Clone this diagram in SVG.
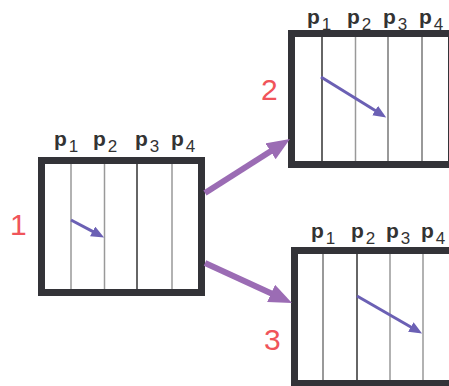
<svg xmlns="http://www.w3.org/2000/svg" width="449" height="386" viewBox="0 0 449 386">
<style>
.box{fill:#fff;stroke:#333338;stroke-width:7}
.dk{stroke:#333;stroke-width:1.5}
.md{stroke:#777;stroke-width:1.5}
.lt{stroke:#999;stroke-width:1.5}
.lbl{font-family:"Liberation Sans",Arial,sans-serif;font-size:21px;font-weight:bold;fill:#333}
.sub{font-weight:normal;font-size:17px}
.num{font-family:"Liberation Sans",Arial,sans-serif;font-size:30px;fill:#f0545a}
.big{stroke:#9b6cb4;stroke-width:6;fill:none}
.small{stroke:#6b60b4;stroke-width:3;fill:none}
</style>
<defs>
<marker id="bigHead" markerUnits="userSpaceOnUse" markerWidth="24" markerHeight="20" refX="1" refY="9.5" orient="auto">
<path d="M0,0 L23,9.5 L0,19 z" fill="#9b6cb4"/>
</marker>
<marker id="smallHead" markerUnits="userSpaceOnUse" markerWidth="14" markerHeight="12" refX="1" refY="5.5" orient="auto">
<path d="M0,0 L13,5.5 L0,11 z" fill="#6b60b4"/>
</marker>
</defs>
<g id="node1">
<rect class="box" x="41.5" y="160.5" width="160" height="132"/>
<line class="lt" x1="71" y1="164" x2="71" y2="289"/>
<line class="lt" x1="104.5" y1="164" x2="104.5" y2="289"/>
<line class="dk" x1="137" y1="164" x2="137" y2="289"/>
<line class="lt" x1="172" y1="164" x2="172" y2="289"/>
<line class="small" x1="71" y1="220" x2="93.5" y2="231.9" marker-end="url(#smallHead)"/>
<text class="lbl" x="54" y="146">p<tspan class="sub" dx="2" dy="6">1</tspan></text>
<text class="lbl" x="93" y="146">p<tspan class="sub" dx="2" dy="6">2</tspan></text>
<text class="lbl" x="135" y="146">p<tspan class="sub" dx="2" dy="6">3</tspan></text>
<text class="lbl" x="171" y="146">p<tspan class="sub" dx="2" dy="6">4</tspan></text>
<text class="num" x="10" y="235">1</text>
</g>
<g id="node2">
<rect class="box" x="291.5" y="33.5" width="160" height="131"/>
<line class="dk" x1="322" y1="37" x2="322" y2="161"/>
<line class="lt" x1="355.5" y1="37" x2="355.5" y2="161"/>
<line class="md" x1="388" y1="37" x2="388" y2="161"/>
<line class="md" x1="422" y1="37" x2="422" y2="161"/>
<line class="small" x1="321" y1="77" x2="376" y2="111.1" marker-end="url(#smallHead)"/>
<text class="lbl" x="307" y="24">p<tspan class="sub" dx="2" dy="6">1</tspan></text>
<text class="lbl" x="347" y="24">p<tspan class="sub" dx="2" dy="6">2</tspan></text>
<text class="lbl" x="383" y="24">p<tspan class="sub" dx="2" dy="6">3</tspan></text>
<text class="lbl" x="419" y="24">p<tspan class="sub" dx="2" dy="6">4</tspan></text>
<text class="num" x="261" y="100">2</text>
</g>
<g id="node3">
<rect class="box" x="294.5" y="250.5" width="160" height="133"/>
<line class="md" x1="323" y1="254" x2="323" y2="380"/>
<line class="dk" x1="357" y1="254" x2="357" y2="380"/>
<line class="lt" x1="390" y1="254" x2="390" y2="380"/>
<line class="lt" x1="423" y1="254" x2="423" y2="380"/>
<line class="small" x1="357" y1="296" x2="411.7" y2="327.5" marker-end="url(#smallHead)"/>
<text class="lbl" x="311" y="238">p<tspan class="sub" dx="2" dy="6">1</tspan></text>
<text class="lbl" x="351" y="238">p<tspan class="sub" dx="2" dy="6">2</tspan></text>
<text class="lbl" x="386" y="238">p<tspan class="sub" dx="2" dy="6">3</tspan></text>
<text class="lbl" x="421" y="238">p<tspan class="sub" dx="2" dy="6">4</tspan></text>
<text class="num" x="264" y="350">3</text>
</g>
<g id="connectors">
<line class="big" x1="205" y1="193" x2="271.4" y2="150.8" marker-end="url(#bigHead)"/>
<line class="big" x1="205" y1="263" x2="272" y2="293.8" marker-end="url(#bigHead)"/>
</g>
</svg>
